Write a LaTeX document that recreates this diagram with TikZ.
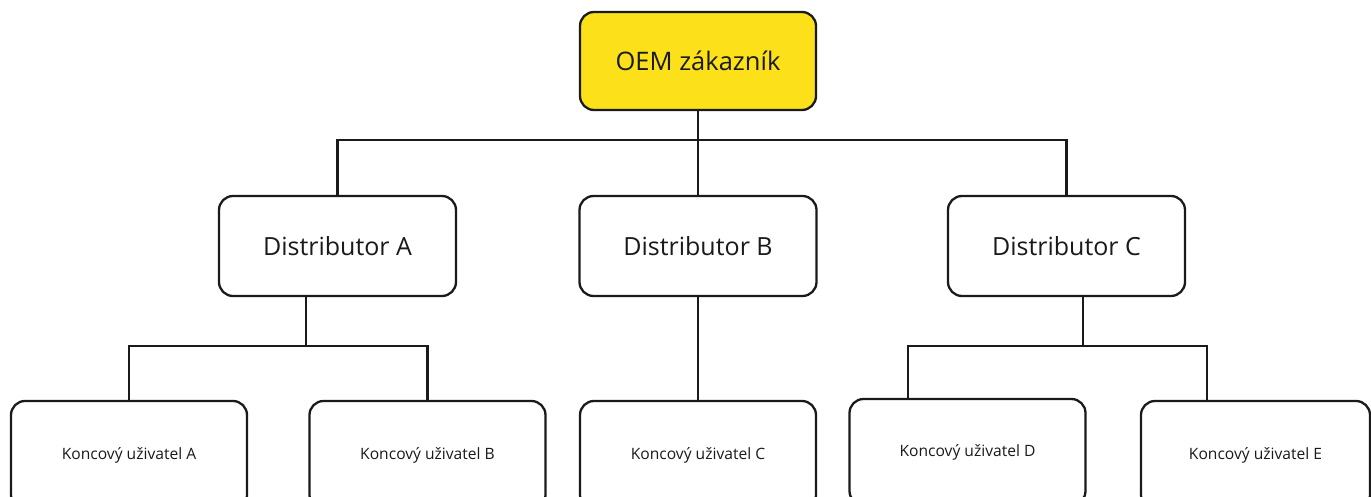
\documentclass[tikz,border=0pt]{standalone}
\usepackage{fontspec}
\setmainfont{Open Sans}
\definecolor{oemyellow}{HTML}{FBE01A}
\definecolor{ink}{HTML}{1A1A1A}
\begin{document}
\begin{tikzpicture}[x=1pt,y=-1pt,
  box/.style={draw=ink, line width=2.3pt, rounded corners=14pt, fill=white, inner sep=0pt, text=ink},
  bigbox/.style={box, minimum width=236pt, minimum height=98pt, font=\fontsize{25.5}{30}\selectfont},
  distbox/.style={box, minimum width=237pt, minimum height=100pt, font=\fontsize{25}{30}\selectfont},
  userbox/.style={box, minimum width=236pt, minimum height=108pt, font=\fontsize{15.6}{19}\selectfont},
  link/.style={draw=ink, line width=2.3pt, line join=miter}]
\useasboundingbox (0,0) rectangle (1371,497);
\begin{scope}
\clip (0,0) rectangle (1371,497);
\node[bigbox, fill=oemyellow] (oem) at (698,61) {OEM zákazník};
\node[distbox] (da) at (337.5,246) {Distributor A};
\node[distbox] (db) at (698,246) {Distributor B};
\node[distbox] (dc) at (1066.5,246) {Distributor C};
\node[userbox] (ka) at (129,455) {Koncový uživatel A};
\node[userbox] (kb) at (427.5,455) {Koncový uživatel B};
\node[userbox] (kc) at (698,455) {Koncový uživatel C};
\node[userbox, minimum height=106pt] (kd) at (967.5,452) {Koncový uživatel D};
\node[userbox, minimum width=229pt] (ke) at (1255.5,455) {Koncový uživatel E};
\coordinate (bus) at (0,140);
\coordinate (ja) at (306,346);
\coordinate (jc) at (1083,346);
\coordinate (xd) at (908,0);
\coordinate (xe) at (1207,0);
\draw[link] (oem.south) -- (db.north);
\draw[link] (da.north) |- (bus -| dc.north) -- (dc.north);
\draw[link] (da.south -| ja) -- (ja);
\draw[link] (ka.north) |- (ja) -| (kb.north);
\draw[link] (db.south) -- (kc.north);
\draw[link] (dc.south -| jc) -- (jc);
\draw[link] (kd.north -| xd) |- (jc) -| (ke.north -| xe);
\end{scope}
\end{tikzpicture}
\end{document}
